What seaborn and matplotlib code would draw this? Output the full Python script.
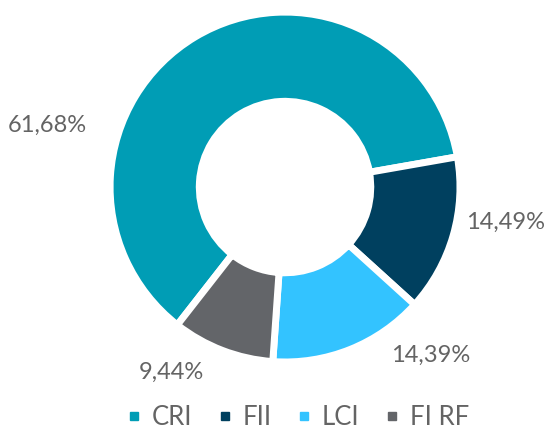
import numpy as np
import pandas as pd
import matplotlib
matplotlib.use("Agg")
import matplotlib.pyplot as plt
from matplotlib.lines import Line2D
import seaborn as sns

categories = ["CRI", "FII", "LCI", "FI RF"]
shares = [61.68, 14.49, 14.39, 9.44]
pct_labels = ["61,68%", "14,49%", "14,39%", "9,44%"]
colors = ["#009db5", "#00405f", "#33c3ff", "#636569"]

sns.set_theme(style="white")
plt.rcParams["font.family"] = ["Lato", "DejaVu Sans"]
text_color = "#646464"

df = pd.DataFrame({"category": categories, "share": shares, "label": pct_labels})

fig = plt.figure(figsize=(5.45, 4.30), dpi=100)
ax = fig.add_axes([0.202, 0.158, 0.642, 0.814])

wedges, texts = ax.pie(
    df["share"],
    colors=colors,
    startangle=232,
    counterclock=False,
    labels=df["label"],
    wedgeprops=dict(width=0.51, edgecolor="white", linewidth=5),
    textprops=dict(color=text_color, fontsize=17),
)
ax.set_xlim(-1, 1)
ax.set_ylim(-1, 1)

# Excel "best fit" label spots
label_pos = [(-1.36, 0.35), (1.26, -0.20), (0.83, -0.96), (-0.65, -1.06)]
for t, (x, y) in zip(texts, label_pos):
    t.set_position((x, y))
    t.set_ha("center")
    t.set_va("center")
    t.set_clip_on(False)

handles = [Line2D([], [], marker="s", linestyle="", color=c, markersize=6) for c in colors]
fig.legend(
    handles, categories,
    loc="center", bbox_to_anchor=(0.545, 0.03), ncol=4, frameon=False,
    handlelength=0.7, handletextpad=0.35, columnspacing=0.9,
    prop=dict(size=18.5), labelcolor=text_color,
)

fig.savefig("out.png", dpi=100)
